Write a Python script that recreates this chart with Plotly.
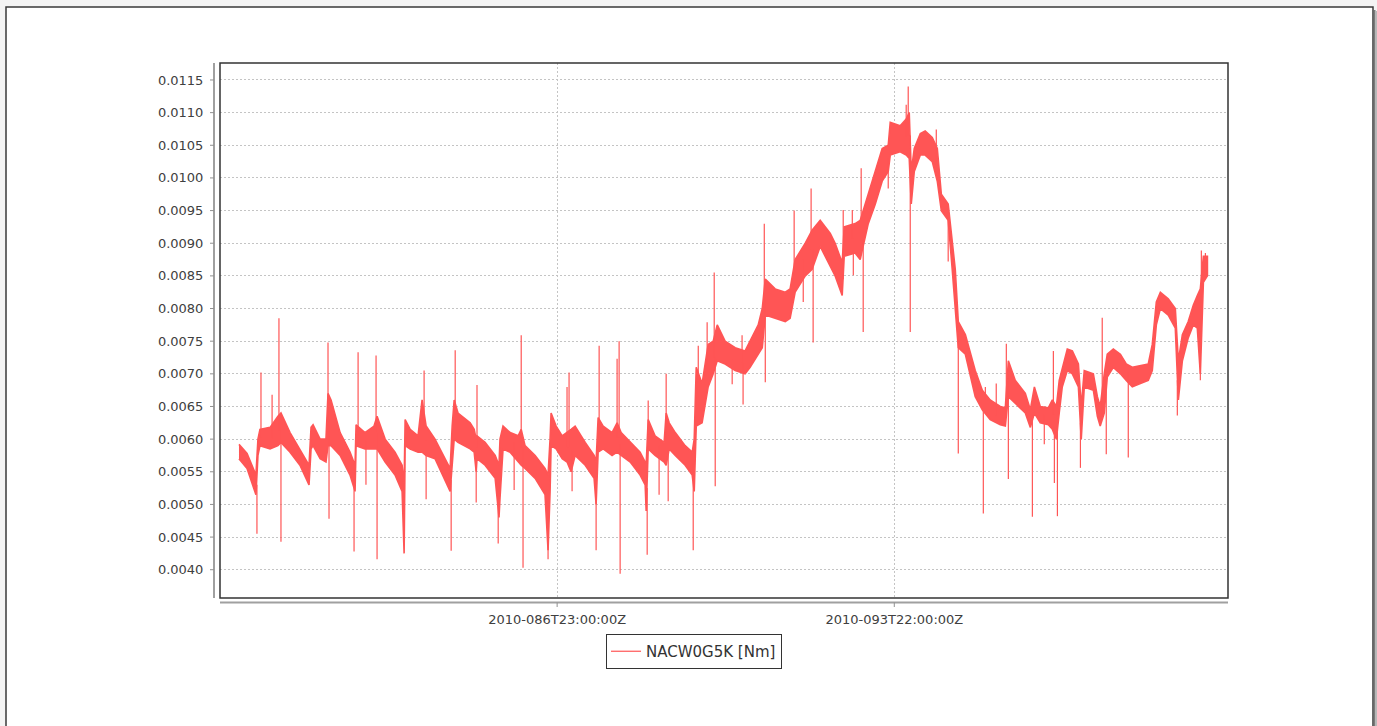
import numpy as np
import pandas as pd
import plotly.graph_objects as go

# ---- data -----------------------------------------------------------------
# Time axis: hours since 2010-080T00:00:00Z (2010-03-21 00:00 UTC)
START = pd.Timestamp("2010-03-21 00:00:00")

# Envelope of the densely sampled torque signal (low / high per time step)
band_hours = [
    9.4, 13.4, 17.8, 18.8, 19.8, 24.8, 28.7, 30.2, 34.7, 39.6, 44.1,
    45.1, 46.1, 49.6, 52.5, 53.5, 55.0, 59.5, 64.4, 66.9,
    67.4, 71.8, 76.3, 77.8, 81.8, 86.7, 90.2, 91.2,
    91.7, 94.2, 98.1, 100.1, 102.1, 106.5, 114.0,
    115.0, 116.0, 117.9, 123.9, 125.9, 126.9, 127.3, 131.3, 136.3, 138.2,
    138.7, 140.2, 143.7, 147.7, 149.2, 151.1, 156.1, 161.0, 162.5,
    163.5, 164.0, 166.5, 169.5, 171.9, 173.9, 175.9, 180.9, 185.3, 186.3,
    187.3, 189.8, 194.2, 196.7, 198.7, 203.2, 208.1, 210.6, 211.1,
    212.1, 215.5, 220.0, 221.0, 222.5, 225.5, 230.4, 233.9, 234.9,
    235.9, 238.8, 241.8, 244.3, 246.3, 250.2, 255.2, 260.1, 262.6, 266.6, 268.6,
    270.1, 275.0, 280.0, 282.4, 284.9, 289.9, 293.3, 297.3, 302.3, 304.7, 308.2,
    309.2, 314.6, 317.1, 321.1, 324.6, 328.0, 331.0, 332.0, 336.9, 339.9, 341.4,
    342.4, 343.9, 346.9, 349.3, 352.8, 355.3, 357.3, 360.7, 362.7, 364.2, 365.7,
    369.2, 374.1, 377.6, 381.5, 386.5, 389.0, 390.5, 393.9, 398.9, 401.4,
    403.4, 406.3, 410.3, 412.3, 414.3, 415.7, 417.2, 419.7, 422.2, 425.2, 426.6,
    428.1, 432.6, 434.6, 436.0, 438.0, 439.5, 442.5, 446.0, 448.9, 451.9, 455.9,
    459.8, 461.8, 463.8, 465.8, 469.7, 473.2, 474.7, 476.7, 479.6, 482.1, 484.1,
    485.6, 487.1, 489.1,
]
band_low = [
    0.00570, 0.00555, 0.00515, 0.00575, 0.00590, 0.00585, 0.00590, 0.00595, 0.00580, 0.00560, 0.00530,
    0.00585, 0.00590, 0.00570, 0.00565, 0.00590, 0.00590, 0.00575, 0.00545, 0.00520,
    0.00590, 0.00585, 0.00585, 0.00585, 0.00565, 0.00545, 0.00520, 0.00425,
    0.00590, 0.00585, 0.00580, 0.00580, 0.00575, 0.00570, 0.00520,
    0.00560, 0.00600, 0.00595, 0.00585, 0.00580, 0.00550, 0.00570, 0.00560, 0.00540, 0.00480,
    0.00510, 0.00585, 0.00580, 0.00565, 0.00560, 0.00555, 0.00540, 0.00515, 0.00430,
    0.00520, 0.00590, 0.00585, 0.00570, 0.00565, 0.00550, 0.00575, 0.00560, 0.00540, 0.00500,
    0.00580, 0.00585, 0.00575, 0.00580, 0.00575, 0.00565, 0.00545, 0.00530, 0.00490,
    0.00585, 0.00575, 0.00565, 0.00560, 0.00585, 0.00575, 0.00560, 0.00545, 0.00520,
    0.00620, 0.00625, 0.00680, 0.00700, 0.00720, 0.00715, 0.00705, 0.00700, 0.00710, 0.00730, 0.00740,
    0.00790, 0.00785, 0.00780, 0.00785, 0.00825, 0.00850, 0.00860, 0.00895, 0.00865, 0.00850, 0.00820,
    0.00880, 0.00885, 0.00875, 0.00930, 0.00960, 0.00995, 0.01010, 0.01035, 0.01040, 0.01035, 0.01030,
    0.00960, 0.01010, 0.01035, 0.01035, 0.01025, 0.00995, 0.00950, 0.00935, 0.00860, 0.00800, 0.00740,
    0.00730, 0.00665, 0.00645, 0.00630, 0.00622, 0.00620, 0.00665, 0.00655, 0.00640, 0.00618,
    0.00640, 0.00625, 0.00622, 0.00615, 0.00600, 0.00640, 0.00680, 0.00705, 0.00700, 0.00680, 0.00600,
    0.00680, 0.00675, 0.00635, 0.00620, 0.00640, 0.00695, 0.00710, 0.00700, 0.00690, 0.00680, 0.00685,
    0.00690, 0.00705, 0.00775, 0.00800, 0.00790, 0.00770, 0.00660, 0.00720, 0.00755, 0.00775, 0.00770,
    0.00700, 0.00840, 0.00850,
]
band_high = [
    0.00592, 0.00578, 0.00545, 0.00600, 0.00615, 0.00618, 0.00635, 0.00640, 0.00610, 0.00585, 0.00560,
    0.00618, 0.00622, 0.00600, 0.00600, 0.00670, 0.00660, 0.00610, 0.00580, 0.00560,
    0.00622, 0.00610, 0.00620, 0.00635, 0.00600, 0.00580, 0.00560, 0.00530,
    0.00630, 0.00615, 0.00605, 0.00660, 0.00620, 0.00600, 0.00555,
    0.00620, 0.00660, 0.00640, 0.00625, 0.00615, 0.00600, 0.00605, 0.00595, 0.00575, 0.00560,
    0.00600, 0.00620, 0.00610, 0.00605, 0.00615, 0.00590, 0.00575, 0.00555, 0.00545,
    0.00600, 0.00640, 0.00620, 0.00605, 0.00610, 0.00615, 0.00620, 0.00595, 0.00575, 0.00565,
    0.00633, 0.00620, 0.00610, 0.00625, 0.00610, 0.00595, 0.00580, 0.00565, 0.00560,
    0.00630, 0.00605, 0.00595, 0.00640, 0.00625, 0.00610, 0.00590, 0.00580, 0.00600,
    0.00710, 0.00685, 0.00745, 0.00750, 0.00775, 0.00750, 0.00740, 0.00735, 0.00750, 0.00775, 0.00800,
    0.00845, 0.00830, 0.00825, 0.00830, 0.00875, 0.00900, 0.00920, 0.00935, 0.00915, 0.00900, 0.00870,
    0.00925, 0.00930, 0.00935, 0.00975, 0.01010, 0.01045, 0.01050, 0.01085, 0.01080, 0.01090, 0.01100,
    0.01010, 0.01045, 0.01068, 0.01072, 0.01062, 0.01045, 0.00975, 0.00960, 0.00900, 0.00860, 0.00780,
    0.00760, 0.00705, 0.00675, 0.00660, 0.00650, 0.00648, 0.00720, 0.00690, 0.00670, 0.00645,
    0.00680, 0.00650, 0.00648, 0.00660, 0.00650, 0.00690, 0.00710, 0.00738, 0.00735, 0.00715, 0.00650,
    0.00705, 0.00700, 0.00665, 0.00650, 0.00700, 0.00730, 0.00738, 0.00730, 0.00715, 0.00710, 0.00712,
    0.00715, 0.00745, 0.00810, 0.00825, 0.00815, 0.00800, 0.00720, 0.00760, 0.00780, 0.00805, 0.00820,
    0.00830, 0.00880, 0.00880,
]

# Isolated single-sample excursions of the same signal
spike_hours = [
    18.3, 20.3, 25.8, 29.2, 30.2, 53.5, 54.0, 66.4, 68.4, 72.3, 77.3, 77.8,
    101.1, 102.1, 114.5, 116.5, 126.9, 127.3, 137.8, 145.7, 149.2, 150.1, 162.5,
    171.9, 172.9, 174.4, 186.3, 187.8, 196.7, 197.7, 198.2, 211.6, 212.1, 217.5,
    221.0, 222.0, 234.4, 236.9, 241.3, 244.8, 245.3, 253.7, 258.6, 259.1, 269.6,
    270.1, 284.4, 288.9, 292.8, 293.8, 308.7, 313.2, 313.7, 317.6, 318.6, 331.0,
    339.9, 340.9, 341.9, 354.8, 360.7, 365.7, 378.1, 379.1, 384.5, 389.5, 390.5,
    402.4, 408.3, 412.8, 413.3, 414.8, 426.2, 437.0, 439.0, 449.9, 474.2, 485.6,
    486.1, 488.1,
]
spike_values = [
    0.00455, 0.00702, 0.00668, 0.00785, 0.00443, 0.00748, 0.00478, 0.00428, 0.00733, 0.00530, 0.00728, 0.00416,
    0.00705, 0.00508, 0.00429, 0.00736, 0.00503, 0.00683, 0.00440, 0.00522, 0.00759, 0.00403, 0.00416,
    0.00680, 0.00702, 0.00520, 0.00430, 0.00743, 0.00723, 0.00750, 0.00394, 0.00423, 0.00659, 0.00515,
    0.00700, 0.00505, 0.00430, 0.00743, 0.00779, 0.00855, 0.00528, 0.00684, 0.00759, 0.00653, 0.00930,
    0.00687, 0.00950, 0.00810, 0.00984, 0.00748, 0.00951, 0.00951, 0.00851, 0.01015, 0.00764, 0.00984,
    0.01112, 0.01140, 0.00764, 0.01074, 0.00872, 0.00578, 0.00486, 0.00680, 0.00685, 0.00746, 0.00539,
    0.00481, 0.00592, 0.00735, 0.00533, 0.00482, 0.00556, 0.00786, 0.00577, 0.00572, 0.00636, 0.00690,
    0.00889, 0.00885,
]

y_tick_values = [0.0040, 0.0045, 0.0050, 0.0055, 0.0060, 0.0065, 0.0070, 0.0075,
                 0.0080, 0.0085, 0.0090, 0.0095, 0.0100, 0.0105, 0.0110, 0.0115]
x_tick_times = ["2010-03-27 23:00:00", "2010-04-03 22:00:00"]
x_tick_labels = ["2010-086T23:00:00Z", "2010-093T22:00:00Z"]

SERIES_NAME = "NACW0G5K [Nm]"
LINE_COLOR = "#FF5555"

# ---- geometry helpers (pixels of the 1377x726 page -> paper fractions) ----
W, H = 1377, 726
PL, PR, PT, PB = 220, 1228, 63, 598


def fx(px):
    return (px - PL) / (PR - PL)


def fy(py):
    return (PB - py) / (PB - PT)


def to_time(hours):
    return START + pd.to_timedelta(np.asarray(hours, dtype=float), unit="h")


# ---- traces ------------------------------------------------------------------
bh = np.asarray(band_hours)
lo = np.asarray(band_low)
hi = np.asarray(band_high)
bt = to_time(bh)

band_x = list(bt) + list(bt[::-1])
band_y = list(lo) + list(hi[::-1])

# each excursion leaves the envelope at the nearest sampled step and returns
sx, sy = [], []
for h, v in zip(spike_hours, spike_values):
    i = int(np.argmin(np.abs(bh - h)))
    base = 0.5 * (lo[i] + hi[i])
    t = to_time([h])[0]
    sx += [t, t, None]
    sy += [base, v, None]

fig = go.Figure()
fig.add_trace(go.Scatter(
    x=band_x, y=band_y, mode="lines", fill="toself",
    fillcolor=LINE_COLOR, line=dict(color=LINE_COLOR, width=1.6),
    name=SERIES_NAME, legendgroup="s", showlegend=False, hoverinfo="skip",
))
fig.add_trace(go.Scatter(
    x=sx, y=sy, mode="lines", line=dict(color=LINE_COLOR, width=1.2),
    name=SERIES_NAME, legendgroup="s", showlegend=True,
))

# ---- decorations -------------------------------------------------------------
shapes = []
# page panel with a thin frame and a drop shadow on the right
shapes.append(dict(type="rect", xref="paper", yref="paper", layer="below",
                   x0=fx(6), x1=fx(1373), y0=fy(760), y1=fy(7),
                   line=dict(color="#3a3a3a", width=1.5), fillcolor="white"))
shapes.append(dict(type="rect", xref="paper", yref="paper", layer="below",
                   x0=fx(1374), x1=fx(1375.5), y0=fy(760), y1=fy(10),
                   line=dict(width=0), fillcolor="#7a7a7a"))
shapes.append(dict(type="rect", xref="paper", yref="paper", layer="below",
                   x0=fx(1375.5), x1=fx(1377), y0=fy(760), y1=fy(11),
                   line=dict(width=0), fillcolor="#b8b8b8"))
# plot outline
shapes.append(dict(type="rect", xref="paper", yref="paper", layer="above",
                   x0=0, x1=1, y0=0, y1=1, line=dict(color="#333333", width=1.5)))
# detached axis lines
shapes.append(dict(type="line", xref="paper", yref="paper",
                   x0=fx(214), x1=fx(214), y0=fy(598), y1=fy(63),
                   line=dict(color="#a0a0a0", width=2)))
shapes.append(dict(type="line", xref="paper", yref="paper",
                   x0=fx(220), x1=fx(1228), y0=fy(602.5), y1=fy(602.5),
                   line=dict(color="#a0a0a0", width=2)))
# tick marks on the detached axes
for v in y_tick_values:
    shapes.append(dict(type="line", xref="paper", yref="y",
                       x0=fx(210), x1=fx(214), y0=v, y1=v,
                       line=dict(color="#909090", width=1)))
for t in x_tick_times:
    shapes.append(dict(type="line", xref="x", yref="paper",
                       x0=t, x1=t, y0=fy(602.5), y1=fy(607),
                       line=dict(color="#909090", width=1)))

FONT = "DejaVu Sans, Verdana, sans-serif"
TEXT = "#404040"

fig.update_layout(
    width=W, height=H,
    margin=dict(l=PL, r=W - PR, t=PT, b=H - PB, pad=0),
    paper_bgcolor="#f4f4f4", plot_bgcolor="white",
    font=dict(family=FONT, size=13, color=TEXT),
    shapes=shapes,
    showlegend=True,
    legend=dict(
        orientation="h", x=fx(694), xanchor="center", y=fy(634), yanchor="top",
        bgcolor="white", bordercolor="#333333", borderwidth=1,
        font=dict(family=FONT, size=15, color="#333333"),
        itemwidth=30, tracegroupgap=0,
    ),
    xaxis=dict(
        type="date",
        range=[START, START + pd.Timedelta(hours=499.3)],
        tickmode="array", tickvals=x_tick_times, ticktext=x_tick_labels,
        showgrid=True, gridcolor="#c4c4c4", griddash="2px,2px", gridwidth=1,
        showline=False, zeroline=False,
        ticks="outside", ticklen=9, tickcolor="rgba(0,0,0,0)",
        tickfont=dict(family=FONT, size=13, color=TEXT),
        fixedrange=True,
    ),
    yaxis=dict(
        range=[0.003567, 0.01176],
        tickmode="array", tickvals=y_tick_values,
        ticktext=[f"{v:.4f}" for v in y_tick_values],
        showgrid=True, gridcolor="#c4c4c4", griddash="2px,2px", gridwidth=1,
        showline=False, zeroline=False,
        ticks="outside", ticklen=13, tickcolor="rgba(0,0,0,0)",
        tickfont=dict(family=FONT, size=13, color=TEXT),
        fixedrange=True,
    ),
)

fig.write_html("out.html")
